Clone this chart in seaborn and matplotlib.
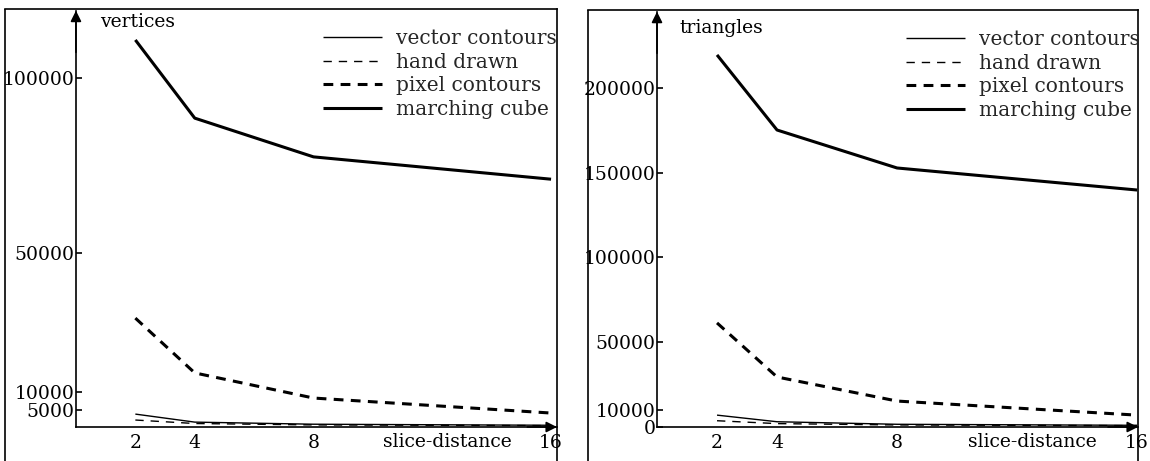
import matplotlib
matplotlib.use("Agg")
import matplotlib.pyplot as plt
import pandas as pd
import seaborn as sns
from matplotlib.lines import Line2D

# Measured mesh sizes against slice distance
slice_distance = [2, 4, 8, 16]
methods = ["vector contours", "hand drawn", "pixel contours", "marching cube"]

vertices_vector = [3700, 1400, 800, 500]
vertices_hand = [2000, 1000, 600, 400]
vertices_pixel = [31200, 15500, 8300, 4000]
vertices_marching = [110900, 88500, 77400, 71000]

triangles_vector = [7000, 3100, 1600, 1000]
triangles_hand = [3700, 2000, 1200, 800]
triangles_pixel = [61400, 29500, 15300, 7000]
triangles_marching = [219500, 175200, 152800, 139800]

vertices_ticks = [5000, 10000, 50000, 100000]
triangles_ticks = [0, 10000, 50000, 100000, 150000, 200000]

sns.set_theme(style="white")
plt.rcParams["font.family"] = ["DejaVu Serif"]
plt.rcParams["lines.solid_capstyle"] = "butt"

FS = 13.5
LEG_FS = 14.5
widths = {"vector contours": 1.0, "hand drawn": 1.0,
          "pixel contours": 2.2, "marching cube": 2.2}
dash_styles = {"vector contours": "", "hand drawn": (6, 5),
               "pixel contours": (3.2, 2.4), "marching cube": ""}
colors = {m: "black" for m in methods}


def long_frame(series):
    rows = []
    for name, vals in zip(methods, series):
        for x, v in zip(slice_distance, vals):
            rows.append({"slice": x, "count": v, "method": name})
    return pd.DataFrame(rows)


def panel(ax, series, ticks, xlim, ylim, ytop, title, title_xy, legend_xy):
    df = long_frame(series)
    sns.lineplot(data=df, x="slice", y="count", hue="method", style="method",
                 size="method", hue_order=methods, style_order=methods,
                 size_order=methods, palette=colors, dashes=dash_styles,
                 sizes=widths, legend=False, ax=ax)
    ax.set_xlim(*xlim)
    ax.set_ylim(*ylim)
    ax.set_xlabel("")
    ax.set_ylabel("")

    # axes through the origin, framed by an open box
    ax.spines["left"].set_position(("data", 0))
    ax.spines["bottom"].set_position(("data", 0))
    ax.spines["left"].set_bounds(0, ytop)
    ax.spines["bottom"].set_bounds(0, xlim[1])
    for s in ax.spines.values():
        s.set_color("black")
        s.set_linewidth(1.2)
    ax.add_line(Line2D([0, 0], [0, 1], transform=ax.transAxes, color="black",
                       lw=1.2, clip_on=False))
    ax.annotate("", xy=(0, ytop), xytext=(0, ytop * 0.9),
                arrowprops=dict(arrowstyle="-|>", color="black", lw=1.2,
                                mutation_scale=16, shrinkA=0, shrinkB=0),
                annotation_clip=False)
    ax.annotate("", xy=(xlim[1], 0), xytext=(xlim[1] - 1.0, 0),
                arrowprops=dict(arrowstyle="-|>", color="black", lw=1.2,
                                mutation_scale=16, shrinkA=0, shrinkB=0),
                annotation_clip=False)

    ax.set_yticks(ticks)
    ax.set_yticklabels([str(t) for t in ticks])
    ax.set_xticks(slice_distance)
    ax.set_xticklabels([str(t) for t in slice_distance])
    ax.tick_params(axis="y", left=True, direction="in", length=4, width=1.2,
                   pad=1, labelsize=FS, colors="black")
    ax.tick_params(axis="x", bottom=True, length=0, pad=5, labelsize=FS,
                   colors="black")

    ax.annotate("slice-distance", xy=(12.5, 0), xytext=(0, -11),
                textcoords="offset points", ha="center", va="center",
                fontsize=FS, color="black")
    ax.text(title_xy[0], title_xy[1], title, transform=ax.transAxes,
            ha="left", va="center", fontsize=FS, color="black")

    handles = [Line2D([], [], color="black", lw=widths[m],
                      dashes=dash_styles[m] if dash_styles[m] else (None, None),
                      solid_capstyle="butt") for m in methods]
    ax.legend(handles, methods, loc="upper left", bbox_to_anchor=legend_xy,
              frameon=False, borderpad=0, borderaxespad=0, handlelength=2.93,
              handletextpad=0.7, labelspacing=0.22, fontsize=LEG_FS)


fig = plt.figure(figsize=(11.5, 4.61), dpi=100)
ax1 = fig.add_axes([5 / 1150, 0, 552 / 1150, 452 / 461])
ax2 = fig.add_axes([588 / 1150, 0, 550 / 1150, 451 / 461])

panel(ax1,
      [vertices_vector, vertices_hand, vertices_pixel, vertices_marching],
      vertices_ticks, (-2.39, 16.2), (-9740, 119770), 119300,
      "vertices", (0.172, 0.971), (0.576, 0.955))
panel(ax2,
      [triangles_vector, triangles_hand, triangles_pixel, triangles_marching],
      triangles_ticks, (-2.3, 16.03), (-20060, 246000), 245000,
      "triangles", (0.167, 0.96), (0.578, 0.955))

fig.savefig("out.png", dpi=100)
